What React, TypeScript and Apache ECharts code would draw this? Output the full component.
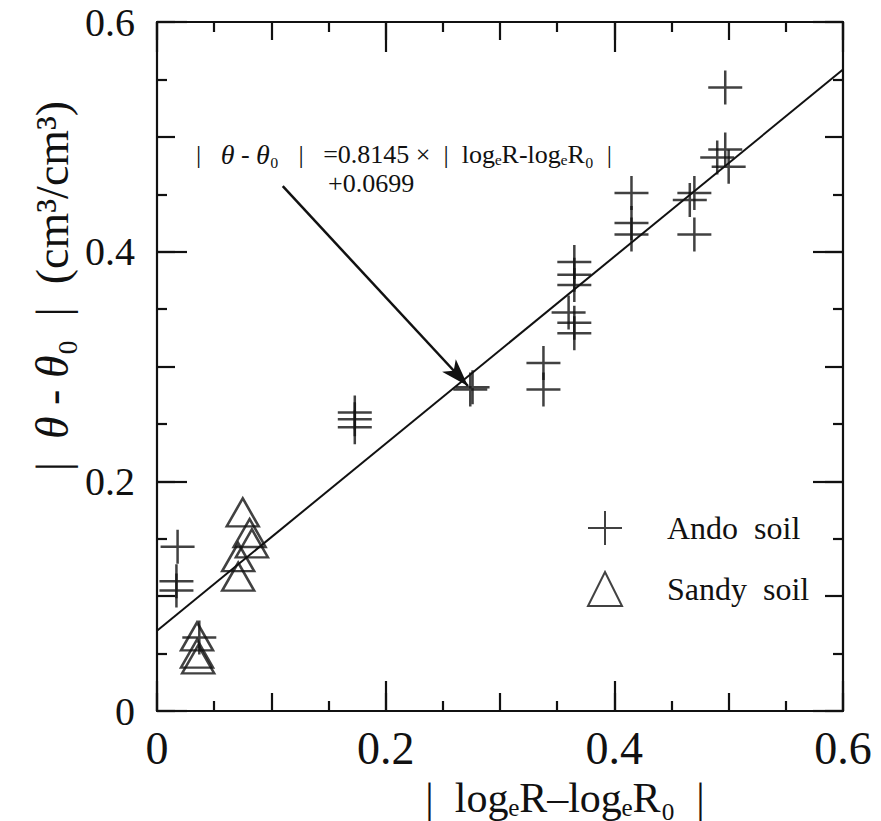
import React, { useEffect, useRef } from "react";
import * as echarts from "echarts";

const andoSoil: [number, number][] = [
  [0.018, 0.143], [0.017, 0.113], [0.017, 0.105], [0.037, 0.064],
  [0.173, 0.26], [0.173, 0.254], [0.173, 0.247],
  [0.276, 0.282], [0.274, 0.28],
  [0.338, 0.303], [0.338, 0.28],
  [0.365, 0.391], [0.365, 0.38], [0.365, 0.371], [0.36, 0.347], [0.365, 0.338], [0.365, 0.329],
  [0.415, 0.451], [0.415, 0.425], [0.415, 0.415],
  [0.47, 0.451], [0.466, 0.445], [0.47, 0.415],
  [0.497, 0.543], [0.497, 0.489], [0.49, 0.482], [0.5, 0.474],
];

const sandySoil: [number, number][] = [
  [0.035, 0.065], [0.035, 0.05], [0.036, 0.045],
  [0.075, 0.173], [0.081, 0.155], [0.083, 0.146], [0.071, 0.134], [0.071, 0.117],
];

const fitLine: [number, number][] = [[0, 0.0699], [0.6, 0.5586]];
const arrowFrom: [number, number] = [0.11, 0.457];
const arrowTo: [number, number] = [0.272, 0.283];

const SERIF = "'Liberation Serif', 'DejaVu Serif', serif";
const CROSS = "path://M10,0L10,20M0,10L20,10";
const INK = "#111";

function valueAxis(gridIndex: number, position: string, interval: number, tickLen: number, opts: any = {}) {
  return {
    type: "value",
    gridIndex,
    position,
    min: 0,
    max: 0.6,
    interval,
    axisLine: { show: opts.line ?? false, onZero: false, lineStyle: { color: INK, width: 2.2 } },
    axisTick: { show: true, inside: true, length: tickLen, lineStyle: { color: INK, width: 2.2 } },
    minorTick: opts.minor
      ? { show: true, splitNumber: 2, length: 10, lineStyle: { color: INK, width: 2.2 } }
      : { show: false },
    splitLine: { show: false },
    axisLabel: opts.label
      ? {
          show: true,
          formatter: (v: number) => (v === 0 ? "0" : v.toFixed(1)),
          fontFamily: SERIF,
          color: INK,
          ...opts.label,
        }
      : { show: false },
  };
}

export default function App() {
  const ref = useRef<HTMLDivElement>(null);
  useEffect(() => {
    document.body.style.margin = "0";
    const chart = echarts.init(ref.current!, null, { renderer: "svg" });
    const gridBox = { left: 157, right: 38, top: 22, bottom: 110 };
    chart.setOption({
      animation: false,
      backgroundColor: "#fff",
      grid: [{ ...gridBox }, { ...gridBox }],
      xAxis: [
        valueAxis(0, "bottom", 0.1, 18, { line: true, minor: true }),
        valueAxis(0, "top", 0.1, 18, { line: true, minor: true }),
        valueAxis(1, "bottom", 0.2, 30, { label: { fontSize: 46, margin: 14 } }),
        valueAxis(1, "top", 0.2, 30),
      ],
      yAxis: [
        valueAxis(0, "left", 0.1, 18, { line: true, minor: true }),
        valueAxis(0, "right", 0.1, 18, { line: true, minor: true }),
        valueAxis(1, "left", 0.2, 30, { label: { fontSize: 40, margin: 22 } }),
        valueAxis(1, "right", 0.2, 30),
      ],
      legend: {
        orient: "vertical",
        left: 582,
        top: 505,
        itemGap: 25,
        itemWidth: 34,
        itemHeight: 34,
        data: ["Ando soil", "Sandy soil"],
        formatter: (n: string) => n.replace(" ", "  "),
        textStyle: { fontFamily: SERIF, fontSize: 32, color: INK, padding: [0, 0, 0, 40] },
      },
      series: [
        {
          name: "fit",
          type: "line",
          xAxisIndex: 0,
          yAxisIndex: 0,
          data: fitLine,
          symbol: "none",
          lineStyle: { color: INK, width: 2 },
          markLine: {
            silent: true,
            symbol: ["none", "arrow"],
            symbolSize: [14, 28],
            label: { show: false },
            lineStyle: { color: INK, width: 2.5, type: "solid" },
            data: [[{ coord: arrowFrom }, { coord: arrowTo }]],
          },
        },
        {
          name: "Ando soil",
          type: "scatter",
          xAxisIndex: 0,
          yAxisIndex: 0,
          data: andoSoil,
          symbol: CROSS,
          symbolSize: 34,
          itemStyle: { color: "rgba(0,0,0,0)", borderColor: INK, borderWidth: 2.5 },
        },
        {
          name: "Sandy soil",
          type: "scatter",
          xAxisIndex: 0,
          yAxisIndex: 0,
          data: sandySoil,
          symbol: "triangle",
          symbolSize: [32, 28],
          itemStyle: { color: "rgba(0,0,0,0)", borderColor: INK, borderWidth: 2.5 },
        },
      ],
      graphic: [
        {
          type: "text",
          left: 196,
          top: 140,
          style: {
            text: "|   {i|θ} - {i|θ}₀   |   =0.8145 ×  |  logₑR-logₑR₀  |",
            font: `26px ${SERIF}`,
            fill: INK,
            rich: { i: { fontStyle: "italic", fontSize: 28, fontFamily: SERIF } },
          },
        },
        {
          type: "text",
          left: 328,
          top: 170,
          style: { text: "+0.0699", font: `26px ${SERIF}`, fill: INK },
        },
        {
          type: "text",
          x: 565,
          y: 798,
          style: {
            text: "|  logₑR–logₑR₀  |",
            font: `42px ${SERIF}`,
            fill: INK,
            align: "center",
            verticalAlign: "middle",
          },
        },
        {
          type: "text",
          x: 52,
          y: 286,
          rotation: Math.PI / 2,
          style: {
            text: "|  {i|θ} - {i|θ}₀  |  (cm³/cm³)",
            font: `46px ${SERIF}`,
            fill: INK,
            align: "center",
            verticalAlign: "middle",
            rich: { i: { fontStyle: "italic", fontSize: 46, fontFamily: SERIF } },
          },
        },
      ],
    });
    return () => chart.dispose();
  }, []);
  return <div ref={ref} style={{ width: 881, height: 821 }} />;
}
